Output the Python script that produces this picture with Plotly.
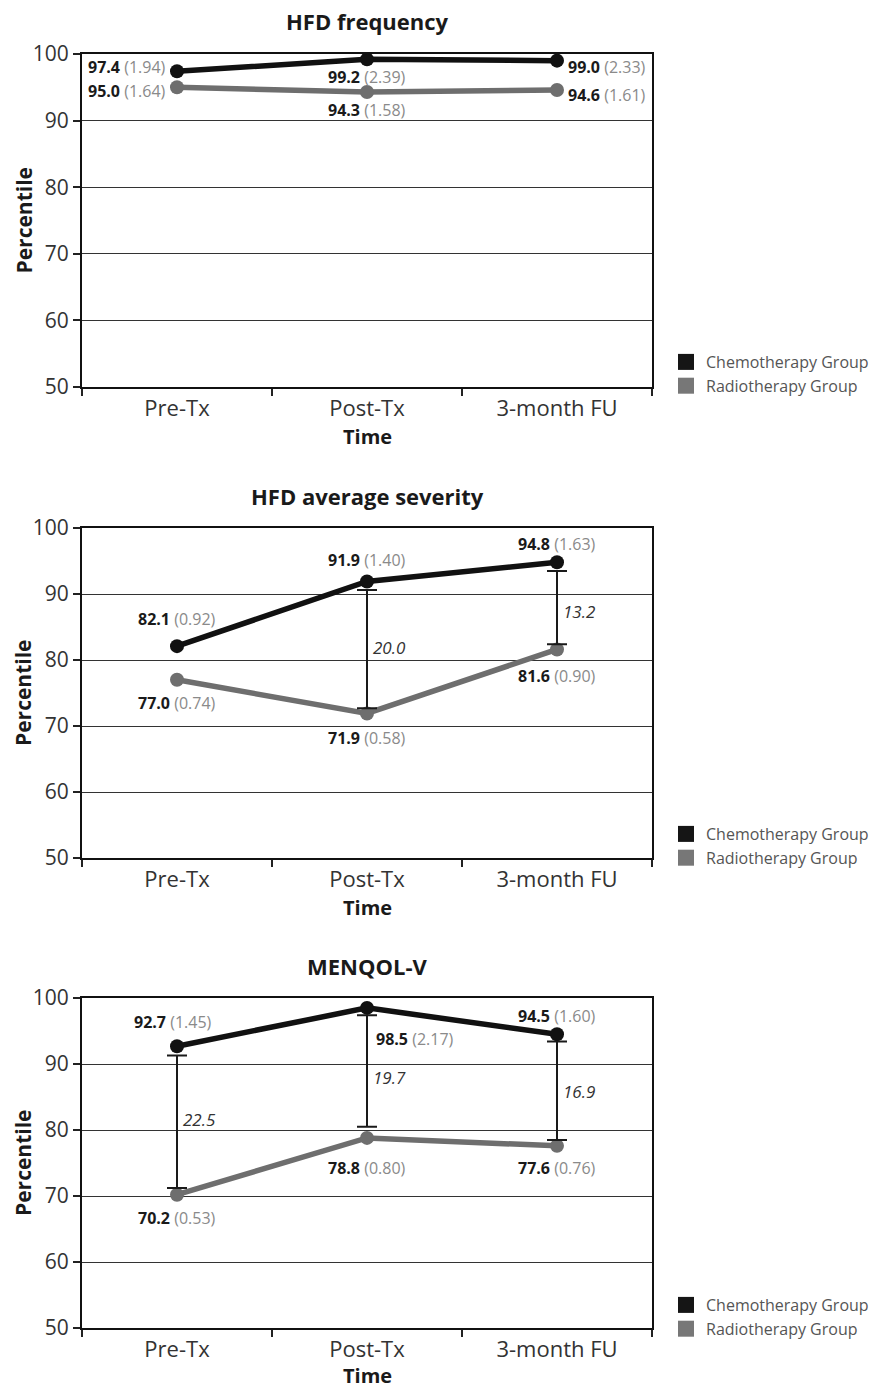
import plotly.graph_objects as go

# ---------------- data ----------------
categories = ["Pre-Tx", "Post-Tx", "3-month FU"]
panel_titles = ["HFD frequency", "HFD average severity", "MENQOL-V"]
series_names = ["Chemotherapy Group", "Radiotherapy Group"]

chemo_means = [[97.4, 99.2, 99.0], [82.1, 91.9, 94.8], [92.7, 98.5, 94.5]]
chemo_sd = [[1.94, 2.39, 2.33], [0.92, 1.40, 1.63], [1.45, 2.17, 1.60]]
radio_means = [[95.0, 94.3, 94.6], [77.0, 71.9, 81.6], [70.2, 78.8, 77.6]]
radio_sd = [[1.64, 1.58, 1.61], [0.74, 0.58, 0.90], [0.53, 0.80, 0.76]]

# difference brackets drawn between the groups
diff_cats = [[], ["Post-Tx", "3-month FU"], ["Pre-Tx", "Post-Tx", "3-month FU"]]
diff_upper = [[], [90.6, 93.5], [91.3, 97.4, 93.4]]
diff_lower = [[], [72.7, 82.4], [71.2, 80.5, 78.5]]
diff_label_y = [[], [81.9, 87.4], [81.6, 87.9, 85.9]]

y_ticks = [50, 60, 70, 80, 90, 100]

# ---------------- style / layout ----------------
W, H = 871, 1390
FONT = "Open Sans"
CHEMO_C = "#111111"
RADIO_C = "#6e6e6e"
x_left, x_right = 82, 652
panel_px = [(54, 387), (528, 858), (998, 1328)]
title_px = [21, 496, 966]
time_px = [436, 907, 1375]
legend_top_px = [345, 817, 1288]

# label placement: (xshift, yshift, xanchor)
chemo_lab = [
    [(-9, 4, "right"), (0, -18, "center"), (9, -6, "left")],
    [(0, 27, "center"), (0, 21, "center"), (0, 18, "center")],
    [(-4, 24, "center"), (7, -31, "left"), (0, 18, "center")],
]
radio_lab = [
    [(-9, -4, "right"), (0, -18, "center"), (9, -5, "left")],
    [(0, -23, "center"), (0, -25, "center"), (0, -27, "center")],
    [(0, -23, "center"), (0, -30, "center"), (0, -22, "center")],
]


def py(px):
    return 1 - px / H


fig = go.Figure()
annotations = []
layout = dict(
    width=W, height=H,
    margin=dict(l=0, r=0, t=0, b=0, autoexpand=False),
    paper_bgcolor="white", plot_bgcolor="white",
    font=dict(family=FONT, color="#333333"),
    showlegend=True,
)

for i in range(3):
    sfx = "" if i == 0 else str(i + 1)
    xa, ya = "x" + sfx, "y" + sfx
    leg = "legend" + sfx

    # lines
    fig.add_trace(go.Scatter(
        x=categories, y=radio_means[i], mode="lines+markers",
        line=dict(color=RADIO_C, width=5.5), marker=dict(color=RADIO_C, size=14),
        xaxis=xa, yaxis=ya, showlegend=False, name=series_names[1]))
    fig.add_trace(go.Scatter(
        x=categories, y=chemo_means[i], mode="lines+markers",
        line=dict(color=CHEMO_C, width=5.5), marker=dict(color=CHEMO_C, size=14),
        xaxis=xa, yaxis=ya, showlegend=False, name=series_names[0]))

    # difference brackets
    if diff_cats[i]:
        mids = [(u + l) / 2 for u, l in zip(diff_upper[i], diff_lower[i])]
        half = [(u - l) / 2 for u, l in zip(diff_upper[i], diff_lower[i])]
        fig.add_trace(go.Scatter(
            x=diff_cats[i], y=mids, mode="markers",
            marker=dict(size=1, color="rgba(0,0,0,0)"),
            error_y=dict(type="data", array=half, arrayminus=half,
                         color="#1a1a1a", thickness=2, width=10),
            xaxis=xa, yaxis=ya, showlegend=False, hoverinfo="skip"))
        for c, yl in zip(diff_cats[i], diff_label_y[i]):
            k = categories.index(c)
            d = chemo_means[i][k] - radio_means[i][k]
            annotations.append(dict(
                x=c, y=yl, xref=xa, yref=ya, text=f"<i>{d:.1f}</i>",
                showarrow=False, xanchor="left", xshift=4,
                font=dict(family=FONT, size=17, color="#333333")))

    # legend-only squares
    fig.add_trace(go.Scatter(
        x=[None], y=[None], mode="markers", name=series_names[0],
        marker=dict(symbol="square", size=16, color="#151515"),
        xaxis=xa, yaxis=ya, legend=leg))
    fig.add_trace(go.Scatter(
        x=[None], y=[None], mode="markers", name=series_names[1],
        marker=dict(symbol="square", size=16, color="#777777"),
        xaxis=xa, yaxis=ya, legend=leg))

    # data labels
    for means, sds, labs in ((chemo_means[i], chemo_sd[i], chemo_lab[i]),
                             (radio_means[i], radio_sd[i], radio_lab[i])):
        for c, m, s, (dx, dy, anc) in zip(categories, means, sds, labs):
            annotations.append(dict(
                x=c, y=m, xref=xa, yref=ya,
                text=f"<b>{m:.1f}</b> <span style='color:#8a8a8a'>({s:.2f})</span>",
                showarrow=False, xanchor=anc, yanchor="middle",
                xshift=dx, yshift=dy,
                font=dict(family=FONT, size=16, color="#1a1a1a")))

    top, bot = panel_px[i]
    layout["xaxis" + sfx] = dict(
        domain=[x_left / W, x_right / W], anchor=ya, automargin=False,
        type="category", range=[-0.5, 2.5],
        tickson="boundaries", ticks="outside", ticklen=7, tickwidth=1.5,
        tickcolor="#222", showgrid=False, showline=True, mirror=True,
        linecolor="#111", linewidth=2.2,
        tickfont=dict(family=FONT, size=22, color="#333"), zeroline=False)
    layout["yaxis" + sfx] = dict(
        domain=[py(bot), py(top)], anchor=xa, automargin=False,
        range=[50, 100], tickvals=y_ticks, ticks="outside", ticklen=7,
        tickwidth=1.5, tickcolor="#222",
        showgrid=True, gridcolor="#333333", gridwidth=1.4,
        showline=True, mirror=True, linecolor="#111", linewidth=2.2,
        tickfont=dict(family=FONT, size=21, color="#333"), zeroline=False)
    layout[leg] = dict(
        x=666 / W, y=py(legend_top_px[i]), xanchor="left", yanchor="top",
        bgcolor="rgba(0,0,0,0)", font=dict(family=FONT, size=16, color="#555"),
        itemclick=False, tracegroupgap=0)

    # titles
    annotations.append(dict(
        x=(x_left + x_right) / 2 / W, y=py(title_px[i]), xref="paper", yref="paper",
        text=f"<b>{panel_titles[i]}</b>", showarrow=False,
        xanchor="center", yanchor="middle",
        font=dict(family=FONT, size=22, color="#1a1a1a")))
    annotations.append(dict(
        x=(x_left + x_right) / 2 / W, y=py(time_px[i]), xref="paper", yref="paper",
        text="<b>Time</b>", showarrow=False, xanchor="center", yanchor="middle",
        font=dict(family=FONT, size=20, color="#1a1a1a")))
    annotations.append(dict(
        x=23 / W, y=py((top + bot) / 2), xref="paper", yref="paper",
        text="<b>Percentile</b>", showarrow=False, textangle=-90,
        xanchor="center", yanchor="middle",
        font=dict(family=FONT, size=21, color="#1a1a1a")))

layout["annotations"] = annotations
fig.update_layout(**layout)
fig.write_html("out.html", config={"displayModeBar": False},
               post_script="document.body.style.margin='0';")
